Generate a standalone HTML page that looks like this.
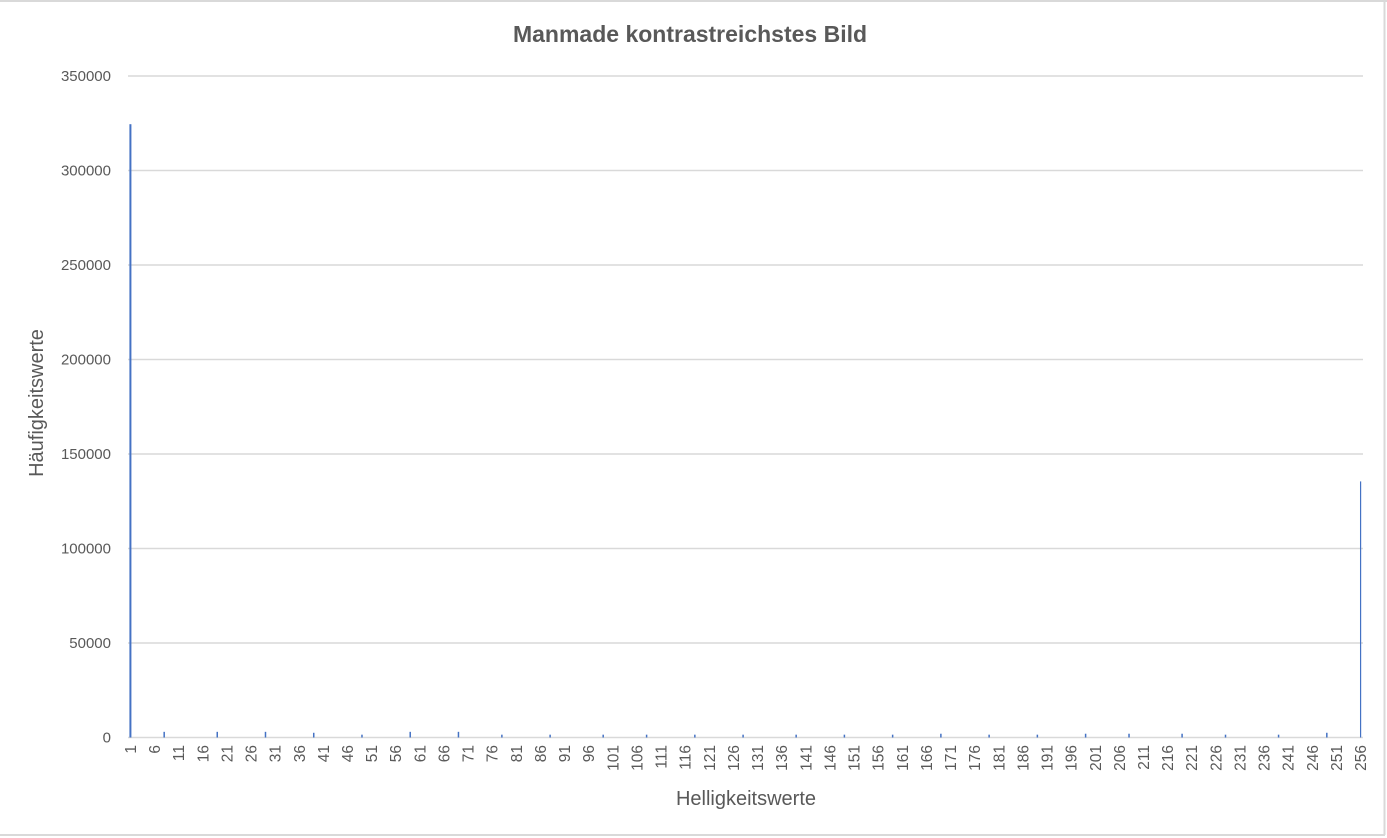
<!DOCTYPE html>
<html><head><meta charset="utf-8"><style>
html,body{margin:0;padding:0;background:#fff;}
svg{display:block;font-family:"Liberation Sans",sans-serif;}
</style></head><body>
<svg id="chart" width="1387" height="838" viewBox="0 0 1387 838" xmlns="http://www.w3.org/2000/svg">
<line x1="0" y1="1" x2="1387" y2="1" stroke="#d9d9d9" stroke-width="2"/>
<line x1="1384.5" y1="0" x2="1384.5" y2="835" stroke="#d9d9d9" stroke-width="2"/>
<line x1="0" y1="835" x2="1385" y2="835" stroke="#d9d9d9" stroke-width="2"/>
<text x="690" y="42" text-anchor="middle" font-size="23" font-weight="bold" fill="#595959">Manmade kontrastreichstes Bild</text>
<text transform="translate(43,403) rotate(-90)" text-anchor="middle" font-size="20" fill="#595959">Häufigkeitswerte</text>
<text x="746" y="805" text-anchor="middle" font-size="20" fill="#595959">Helligkeitswerte</text>
<g id="grid"></g><g id="bars"></g><g id="xlabels"></g>
</svg>
<script>
const yTicks=[0,50000,100000,150000,200000,250000,300000,350000];
const peakBins=[1,256];
const peakValues=[324500,135500];
const smallBins=[8,19,29,39,49,59,69,78,88,99,108,118,128,139,149,159,169,179,189,199,208,219,228,239,249];
const smallValues=[3000,3000,3000,2500,1500,3000,3000,1500,1500,1500,1500,1500,1500,1500,1500,1500,2000,1500,1500,2000,2000,2000,1500,1500,2500];

const NS="http://www.w3.org/2000/svg";
const L=128,R=1363,T=76,B=737.5,N=256,YMAX=350000;
const band=(R-L)/N;
const xS=b=>L+(b-0.5)*band;
const yS=v=>B-(v/YMAX)*(B-T);
function mk(tag,attrs,parent){const e=document.createElementNS(NS,tag);for(const k in attrs)e.setAttribute(k,attrs[k]);parent.appendChild(e);return e;}
const grid=document.getElementById('grid'),bars=document.getElementById('bars'),xl=document.getElementById('xlabels');
yTicks.forEach(v=>{
  const g=mk('line',{x1:L,x2:R,y1:yS(v),y2:yS(v),stroke:'#d9d9d9','stroke-width':1.5},grid);
  
  
  const t=mk('text',{x:111,y:yS(v)+5,'text-anchor':'end','font-size':15,fill:'#595959'},grid);
  t.textContent=v;
  
  
});
function bar(b,v,w){
  const r=mk('rect',{x:xS(b)-w/2,y:yS(v),width:w,height:B-yS(v),fill:'#4472c4'},bars);
  
  
}
peakBins.forEach((b,i)=>bar(b,peakValues[i],i===0?2:1.2));
smallBins.forEach((b,i)=>bar(b,smallValues[i],1.5));
for(let b=1;b<=N;b+=5){
  const x=xS(b);
  const t=mk('text',{transform:`translate(${x+5.5},745) rotate(-90)`,'text-anchor':'end','font-size':15.5,fill:'#595959'},xl);
  t.textContent=b;
  
  
}
</script>
</body></html>
